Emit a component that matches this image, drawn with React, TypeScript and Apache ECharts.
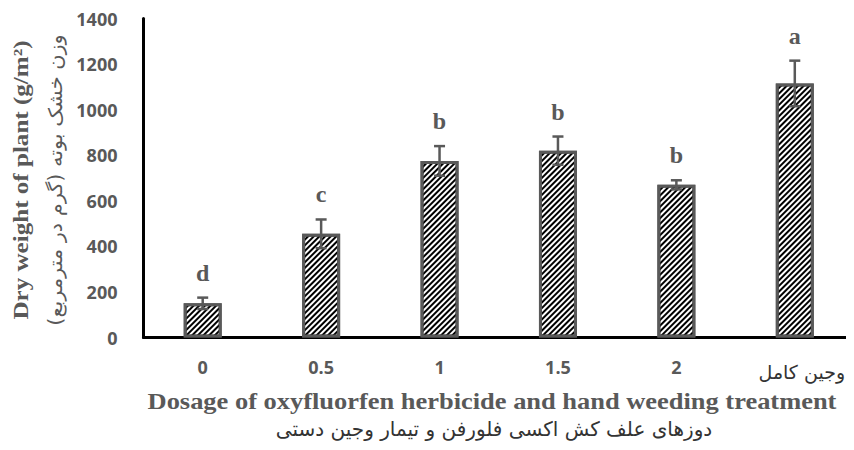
import React, { useEffect, useRef } from "react";
import * as echarts from "echarts";

const categories = ["0", "0.5", "1", "1.5", "2", "وجین کامل"];
const means = [150, 455, 775, 820, 670, 1115];
const errors = [25, 63, 65, 62, 20, 100];
const letters = ["d", "c", "b", "b", "b", "a"];
const yMin = 0;
const yMax = 1400;
const yInterval = 200;

const yTitleEn = "Dry weight of plant (g/m²)";
const yTitleFa = "وزن خشک بوته (گرم در مترمربع)";
const xTitleEn = "Dosage of oxyfluorfen herbicide and hand weeding treatment";
const xTitleFa = "دوزهای علف کش اکسی فلورفن و تیمار وجین دستی";

const GREY = "#595959";

export default function App() {
  const ref = useRef<HTMLDivElement>(null);
  useEffect(() => {
    if (!ref.current) return;
    const chart = echarts.init(ref.current, undefined, { renderer: "svg" });
    const errData = categories.map((_, i) => [i, means[i], errors[i]]);
    chart.setOption({
      animation: false,
      backgroundColor: "#fff",
      grid: { left: 143.5, right: -13, top: 18.5, bottom: 112.5, containLabel: false },
      xAxis: {
        type: "category",
        data: categories,
        axisLine: { show: true, lineStyle: { color: "#000", width: 3 } },
        axisTick: { show: false },
        axisLabel: {
          margin: 20,
          interval: 0,
          formatter: (v: string) => (/^[0-9.]+$/.test(v) ? `{n|${v}}` : `{fa|${v}}`),
          rich: {
            n: { fontFamily: "Open Sans", fontWeight: "bold", fontSize: 18, color: GREY },
            fa: { fontFamily: "DejaVu Sans", fontSize: 19, color: "#333", padding: [5, 0, 0, 14] },
          },
        },
      },
      yAxis: {
        type: "value",
        min: yMin,
        max: yMax,
        interval: yInterval,
        splitLine: { show: false },
        axisLine: { show: true, lineStyle: { color: "#000", width: 3 } },
        axisTick: { show: false },
        axisLabel: {
          margin: 26,
          fontFamily: "Open Sans",
          fontWeight: "bold",
          fontSize: 18,
          color: GREY,
          formatter: (v: number) => String(v),
        },
      },
      series: [
        {
          type: "bar",
          data: means,
          barWidth: 38,
          itemStyle: {
            color: "#fff",
            borderColor: GREY,
            borderWidth: 3,
            decal: {
              symbol: "rect",
              symbolSize: 1,
              dashArrayX: [1, 0],
              dashArrayY: [1.5, 1.8],
              rotation: -Math.PI / 4,
              color: "#000",
            },
          },
          z: 2,
        },
        {
          type: "custom",
          data: errData,
          z: 5,
          renderItem: (params: any, api: any) => {
            const i = api.value(0);
            const m = api.value(1);
            const e = api.value(2);
            const letter = letters[params.dataIndex];
            const top = api.coord([i, m + e]);
            const bot = api.coord([i, m - e]);
            const cw = 5.5;
            const ls = { stroke: GREY, lineWidth: 2.5 };
            return {
              type: "group",
              children: [
                { type: "line", shape: { x1: top[0], y1: top[1], x2: bot[0], y2: bot[1] }, style: ls },
                { type: "line", shape: { x1: top[0] - cw, y1: top[1], x2: top[0] + cw, y2: top[1] }, style: ls },
                { type: "line", shape: { x1: bot[0] - cw, y1: bot[1], x2: bot[0] + cw, y2: bot[1] }, style: ls },
                {
                  type: "text",
                  x: top[0],
                  y: top[1] - 25,
                  style: {
                    text: letter,
                    fill: GREY,
                    font: "bold 24px 'Liberation Serif'",
                    align: "center",
                    verticalAlign: "middle",
                  },
                },
              ],
            };
          },
        },
      ],
      graphic: [
        {
          type: "text",
          x: 21,
          y: 180,
          rotation: Math.PI / 2,
          scaleX: 1.14,
          style: {
            text: yTitleEn,
            fill: GREY,
            font: "bold 22px 'Liberation Serif'",
            align: "center",
            verticalAlign: "middle",
          },
        },
        {
          type: "text",
          x: 55,
          y: 180,
          rotation: Math.PI / 2,
          scaleX: 1.1,
          style: {
            text: yTitleFa,
            fill: GREY,
            font: "19px 'DejaVu Sans'",
            align: "center",
            verticalAlign: "middle",
          },
        },
        {
          type: "text",
          x: 492,
          y: 401,
          scaleX: 1.15,
          style: {
            text: xTitleEn,
            fill: GREY,
            font: "bold 23px 'Liberation Serif'",
            align: "center",
            verticalAlign: "middle",
          },
        },
        {
          type: "text",
          x: 494,
          y: 429,
          style: {
            text: xTitleFa,
            fill: "#333",
            font: "20px 'DejaVu Sans'",
            align: "center",
            verticalAlign: "middle",
          },
        },
      ],
    });
    return () => chart.dispose();
  }, []);
  return <div ref={ref} style={{ width: 854, height: 450, margin: -8 }} />;
}
